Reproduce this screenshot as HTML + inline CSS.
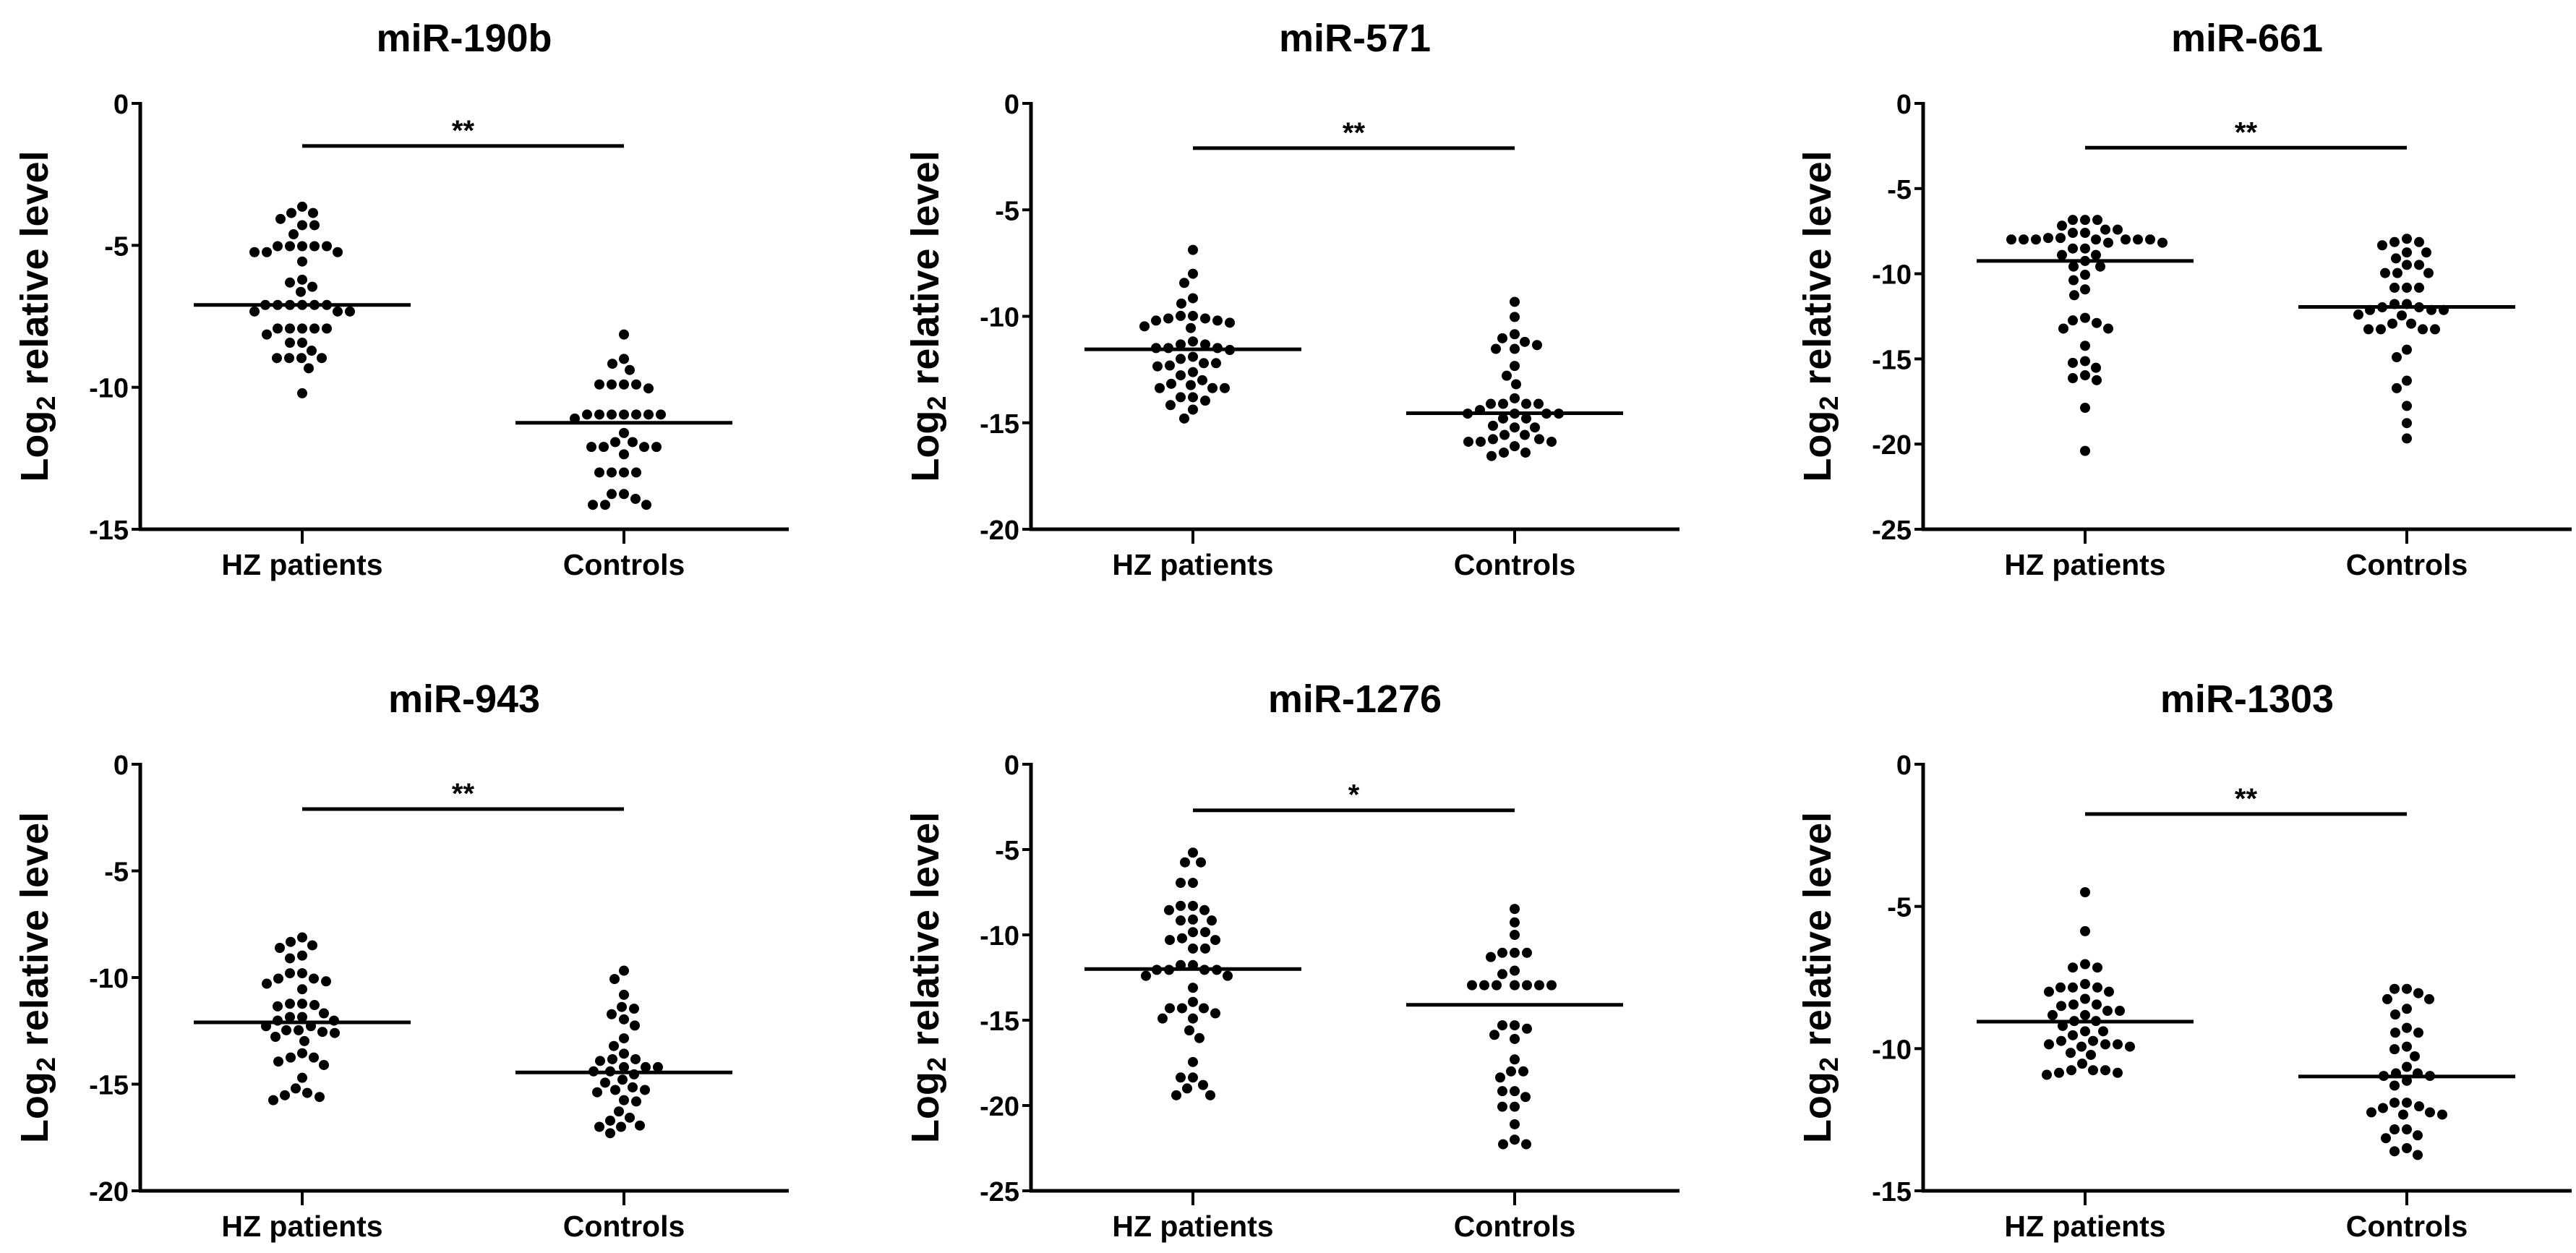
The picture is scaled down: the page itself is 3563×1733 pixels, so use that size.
<!DOCTYPE html>
<html><head><meta charset="utf-8"><style>
html,body{margin:0;padding:0;background:#fff;}
svg{display:block;font-family:"Liberation Sans",Arial,sans-serif;font-weight:bold;}
</style></head><body>
<svg id="chart" width="3563" height="1733" viewBox="0 0 3563 1733" xmlns="http://www.w3.org/2000/svg"></svg>
<script>
const titles = ["miR-190b","miR-571","miR-661","miR-943","miR-1276","miR-1303"];
const categories = ["HZ patients","Controls"];
const yMins = [-15,-20,-25,-20,-25,-15];
const sigLabels = ["**","**","**","**","*","**"];
const sigValues = [-1.5,-2.1,-2.6,-2.1,-2.7,-1.75];
const meansHZ = [-7.1,-11.55,-9.25,-12.1,-12.0,-9.05];
const meansCtrl = [-11.25,-14.55,-11.95,-14.45,-14.1,-10.98];
const hz190b = [-3.64,-3.86,-3.86,-4.07,-4.29,-4.29,-4.61,-5.03,-5.03,-5.03,-5.03,-5.03,-5.24,-5.24,-5.24,-5.57,-6.21,-6.31,-6.46,-6.64,-7.1,-7.1,-7.1,-7.1,-7.1,-7.1,-7.33,-7.33,-7.33,-7.93,-7.93,-7.93,-7.93,-7.93,-8.14,-8.43,-8.43,-8.71,-8.97,-8.97,-8.97,-8.97,-9.33,-10.21];
const ct190b = [-8.14,-9.0,-9.17,-9.39,-9.9,-9.9,-9.9,-9.9,-10.04,-10.96,-10.96,-10.96,-10.96,-10.96,-10.96,-10.96,-11.1,-11.61,-11.93,-11.93,-12.1,-12.1,-12.1,-12.1,-12.36,-13.0,-13.0,-13.0,-13.0,-13.76,-13.76,-13.93,-14.14,-14.14,-14.14];
const hz571 = [-6.88,-8.0,-8.43,-9.15,-9.4,-9.98,-9.98,-10.1,-10.1,-10.2,-10.2,-10.3,-10.47,-10.55,-11.18,-11.32,-11.32,-11.49,-11.49,-11.49,-11.58,-11.9,-12.0,-12.2,-12.2,-12.31,-12.35,-12.62,-12.77,-13.0,-13.17,-13.23,-13.37,-13.37,-13.37,-13.8,-13.8,-13.96,-14.17,-14.38,-14.8];
const ct571 = [-9.32,-10.03,-10.84,-11.03,-11.2,-11.35,-11.53,-11.53,-12.33,-12.79,-13.19,-13.85,-14.11,-14.11,-14.11,-14.11,-14.4,-14.57,-14.57,-14.57,-14.57,-14.8,-14.8,-15.14,-15.22,-15.22,-15.57,-15.57,-15.77,-15.77,-15.89,-15.89,-15.89,-16.1,-16.4,-16.4,-16.56];
const hz661 = [-6.84,-6.84,-6.84,-7.18,-7.41,-7.41,-7.6,-7.6,-7.9,-7.9,-7.99,-7.99,-7.99,-7.99,-7.99,-7.99,-7.99,-8.18,-8.18,-8.52,-8.52,-8.9,-8.9,-9.25,-9.58,-9.58,-10.06,-10.38,-10.92,-11.26,-12.59,-12.74,-12.89,-13.22,-13.22,-14.23,-15.13,-15.23,-15.52,-15.96,-16.13,-16.25,-17.87,-20.4];
const ct661 = [-7.95,-8.14,-8.14,-8.33,-8.75,-8.75,-9.1,-9.48,-9.48,-9.96,-9.96,-9.96,-10.82,-10.82,-10.82,-11.78,-11.78,-11.97,-11.97,-12.13,-12.13,-12.13,-12.4,-12.45,-12.93,-12.93,-13.26,-13.26,-13.26,-13.26,-14.46,-14.9,-16.28,-16.72,-17.76,-18.77,-19.67];
const hz943 = [-8.12,-8.33,-8.49,-8.61,-8.97,-9.1,-9.8,-9.8,-10.05,-10.05,-10.18,-10.29,-10.55,-11.23,-11.23,-11.29,-11.35,-11.68,-11.85,-11.85,-12.02,-12.02,-12.28,-12.28,-12.47,-12.47,-12.55,-12.6,-12.78,-12.98,-13.55,-13.75,-13.75,-13.94,-14.1,-14.7,-15.2,-15.41,-15.52,-15.6,-15.75];
const ct943 = [-9.68,-10.07,-10.81,-11.38,-11.46,-11.72,-11.96,-12.25,-12.85,-13.21,-13.57,-13.83,-13.83,-13.91,-14.2,-14.2,-14.2,-14.4,-14.4,-14.54,-14.79,-14.93,-15.15,-15.27,-15.27,-15.38,-15.75,-15.81,-16.28,-16.57,-16.71,-16.94,-17.0,-17.0,-17.3];
const hz1276 = [-5.18,-5.75,-5.75,-6.95,-6.95,-8.3,-8.3,-8.55,-8.55,-9.1,-9.16,-9.16,-9.84,-9.84,-10.2,-10.3,-10.3,-10.8,-10.8,-11.77,-11.77,-12.05,-12.05,-12.05,-12.05,-12.4,-12.4,-13.1,-13.93,-14.3,-14.3,-14.3,-14.6,-14.9,-14.9,-15.6,-16.05,-17.45,-18.36,-18.36,-18.8,-19.0,-19.4,-19.4];
const ct1276 = [-8.48,-9.27,-10.0,-11.05,-11.05,-11.05,-11.3,-12.1,-12.3,-12.95,-12.95,-12.95,-12.95,-12.95,-12.95,-12.95,-15.3,-15.3,-15.5,-15.86,-16.1,-17.3,-18.0,-18.0,-18.36,-19.16,-19.16,-19.5,-20.07,-20.07,-21.1,-22.0,-22.27,-22.27];
const hz1303 = [-4.5,-5.87,-7.03,-7.15,-7.15,-7.73,-7.85,-7.85,-7.85,-8.0,-8.0,-8.25,-8.45,-8.45,-8.5,-8.67,-8.67,-8.82,-8.82,-9.03,-9.03,-9.2,-9.39,-9.39,-9.53,-9.73,-9.73,-9.85,-9.85,-9.85,-9.93,-9.93,-10.15,-10.22,-10.53,-10.76,-10.76,-10.76,-10.85,-10.85,-10.92];
const ct1303 = [-7.9,-7.9,-8.05,-8.26,-8.26,-8.6,-8.8,-9.27,-9.44,-9.44,-9.93,-10.02,-10.27,-10.64,-10.87,-10.87,-10.96,-10.96,-11.13,-11.3,-11.9,-11.9,-12.03,-12.09,-12.24,-12.24,-12.32,-12.32,-12.84,-12.84,-13.05,-13.15,-13.5,-13.61,-13.74];
const hzSeries = [hz190b,hz571,hz661,hz943,hz1276,hz1303];
const ctSeries = [ct190b,ct571,ct661,ct943,ct1276,ct1303];

const NS="http://www.w3.org/2000/svg";
const svg=document.getElementById('chart');
function mk(tag,attrs,parent){const e=document.createElementNS(NS,tag);for(const k in attrs)e.setAttribute(k,attrs[k]);(parent||svg).appendChild(e);return e;}
const colX=[194,1426,2660], rowTop=[143,1057], rowBot=[732,1647];
const AX_LEN=897, OFF_HZ=224, OFF_CT=669, R=7, MIN_D=17;

function swarm(vals,cx,yf){
  const sorted=vals.slice().sort((a,b)=>b-a);const placed=[];
  for(const v of sorted){const y=yf(v);let best=cx;
    for(let k=0;k<200;k++){const cands=k===0?[cx]:[cx-k,cx+k];let ok=null;
      for(const c of cands){if(placed.every(p=>Math.hypot(p.x-c,p.y-y)>=MIN_D)){ok=c;break;}}
      if(ok!==null){best=ok;break;}}
    placed.push({x:best,y:y,v:v});}
  return placed;
}

for(let i=0;i<6;i++){
  const ax=colX[i%3], top=rowTop[Math.floor(i/3)], bot=rowBot[Math.floor(i/3)], ymin=yMins[i];
  const yf=v=>top+(v/ymin)*(bot-top);
  const g=mk('g',{});
  
  
  const t=mk('text',{x:ax+448,y:top-72,'font-size':54,'text-anchor':'middle'},g);t.textContent=titles[i];
  
  const yt=mk('text',{transform:`translate(${ax-128},${(top+bot)/2}) rotate(-90)`,'font-size':54,'text-anchor':'middle'},g);
  
  yt.appendChild(document.createTextNode('Log'));
  const sub=mk('tspan',{'font-size':36,dy:10},yt);sub.textContent='2';
  const rest=mk('tspan',{dy:-10},yt);rest.textContent=' relative level';
  const yl=mk('line',{x1:ax,y1:top-2,x2:ax,y2:bot+2,stroke:'#000','stroke-width':5},g);
  
  const xl=mk('line',{x1:ax-2,y1:bot,x2:ax+AX_LEN,y2:bot,stroke:'#000','stroke-width':5},g);
  
  for(let v=0;v>=ymin;v-=5){
    const y=yf(v);
    const tk=mk('line',{x1:ax-12,y1:y,x2:ax,y2:y,stroke:'#000','stroke-width':4},g);
    
    const tl=mk('text',{x:ax-16,y:y+14,'font-size':38,'text-anchor':'end'},g);tl.textContent=String(v);
    
  }
  const offs=[OFF_HZ,OFF_CT];const series=[hzSeries[i],ctSeries[i]];const means=[meansHZ[i],meansCtrl[i]];
  for(let c=0;c<2;c++){
    const cx=ax+offs[c];
    const tk=mk('line',{x1:cx,y1:bot,x2:cx,y2:bot+20,stroke:'#000','stroke-width':4},g);
    
    const lb=mk('text',{x:cx,y:bot+63,'font-size':41,'text-anchor':'middle'},g);lb.textContent=categories[c];
    
    for(const p of swarm(series[c],cx,yf)){
      const d=mk('circle',{cx:p.x,cy:p.y,r:R,fill:'#000'},g);
      
      
    }
    const my=yf(means[c]);
    const ml=mk('line',{x1:cx-150,y1:my,x2:cx+150,y2:my,stroke:'#000','stroke-width':5},g);
    
  }
  const sy=yf(sigValues[i]);
  const sb=mk('line',{x1:ax+OFF_HZ,y1:sy,x2:ax+OFF_CT,y2:sy,stroke:'#000','stroke-width':5},g);
  
  const st=mk('text',{x:ax+(OFF_HZ+OFF_CT)/2,y:sy-8,'font-size':40,'text-anchor':'middle'},g);st.textContent=sigLabels[i];
  
}
</script>
</body></html>
